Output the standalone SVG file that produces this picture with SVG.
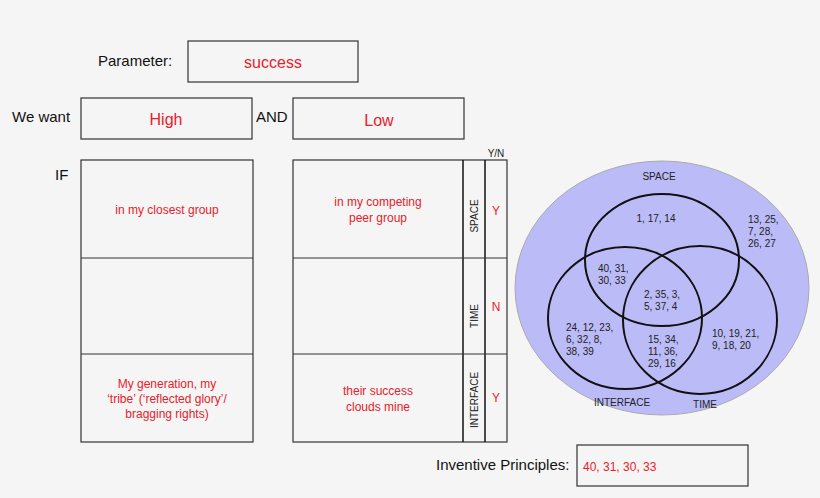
<svg xmlns="http://www.w3.org/2000/svg" width="820" height="498" viewBox="0 0 820 498">
<style>
text{font-family:"Liberation Sans",Arial,sans-serif}
.b{fill:#f5f5f5;stroke:#333;stroke-width:1.2}
.k{font-size:15px;fill:#111}
.r{font-size:16px;fill:#e8202a}
.rs{font-size:12px;fill:#e8202a}
.s{font-size:10px;fill:#222}
.v{font-size:10px;fill:#222}
.c{fill:none;stroke:#111;stroke-width:2}
</style>
<rect width="820" height="498" fill="#f5f5f5"/>
<g id="parameter">
<text class="k" x="98" y="66">Parameter:</text>
<rect class="b" x="188" y="41" width="170" height="41"/>
<text class="r" x="273" y="68" text-anchor="middle">success</text>
</g>
<g id="want">
<text class="k" x="12" y="122">We want</text>
<rect class="b" x="81" y="98" width="171" height="41"/>
<text class="r" x="166" y="125" text-anchor="middle">High</text>
<text class="k" x="256" y="122">AND</text>
<rect class="b" x="293" y="98" width="171" height="41"/>
<text class="r" x="379" y="126" text-anchor="middle">Low</text>
</g>
<g id="left-table">
<text class="k" x="55" y="180">IF</text>
<rect class="b" x="81" y="160" width="172" height="282"/>
<line x1="81" y1="258" x2="253" y2="258" stroke="#333"/>
<line x1="81" y1="354" x2="253" y2="354" stroke="#333"/>
<text class="rs" x="167" y="214" text-anchor="middle">in my closest group</text>
<text class="rs" text-anchor="middle"><tspan x="167" y="388">My generation, my</tspan><tspan x="167" y="403">‘tribe’ (‘reflected glory’/</tspan><tspan x="167" y="418">bragging rights)</tspan></text>
</g>
<g id="right-table">
<rect class="b" x="293" y="160" width="214" height="282"/>
<line x1="463" y1="160" x2="463" y2="442" stroke="#111" stroke-width="1.5"/>
<line x1="485" y1="160" x2="485" y2="442" stroke="#111" stroke-width="1.5"/>
<line x1="293" y1="258" x2="507" y2="258" stroke="#333"/>
<line x1="293" y1="354" x2="507" y2="354" stroke="#333"/>
<text class="s" x="496" y="157" text-anchor="middle">Y/N</text>
<text class="rs" text-anchor="middle"><tspan x="378" y="206">in my competing</tspan><tspan x="378" y="222">peer group</tspan></text>
<text class="rs" text-anchor="middle"><tspan x="378" y="395">their success</tspan><tspan x="378" y="411">clouds mine</tspan></text>
<text class="s" transform="translate(478,216) rotate(-90)" text-anchor="middle">SPACE</text>
<text class="s" transform="translate(478,316) rotate(-90)" text-anchor="middle">TIME</text>
<text class="s" transform="translate(478,400) rotate(-90)" text-anchor="middle">INTERFACE</text>
<text class="rs" x="496" y="215" text-anchor="middle">Y</text>
<text class="rs" x="496" y="311" text-anchor="middle">N</text>
<text class="rs" x="496" y="402" text-anchor="middle">Y</text>
</g>
<g id="venn">
<ellipse cx="662" cy="288" rx="147" ry="127" fill="#bbbbf7" stroke="#aaa"/>
<ellipse class="c" cx="662" cy="260" rx="77" ry="66"/>
<ellipse class="c" cx="625" cy="318" rx="77" ry="71"/>
<ellipse class="c" cx="700" cy="320" rx="77" ry="74"/>
<text class="s" x="659" y="180" text-anchor="middle">SPACE</text>
<text class="s" x="622" y="406" text-anchor="middle">INTERFACE</text>
<text class="s" x="705" y="408" text-anchor="middle">TIME</text>
<text class="v" x="656" y="222" text-anchor="middle">1, 17, 14</text>
<text class="v"><tspan x="748" y="223">13, 25,</tspan><tspan x="748" y="235">7, 28,</tspan><tspan x="748" y="247">26, 27</tspan></text>
<text class="v"><tspan x="598" y="272">40, 31,</tspan><tspan x="598" y="284">30, 33</tspan></text>
<text class="v"><tspan x="644" y="298">2, 35, 3,</tspan><tspan x="644" y="310">5, 37, 4</tspan></text>
<text class="v"><tspan x="566" y="331">24, 12, 23,</tspan><tspan x="566" y="343">6, 32, 8,</tspan><tspan x="566" y="355">38, 39</tspan></text>
<text class="v"><tspan x="648" y="343">15, 34,</tspan><tspan x="648" y="355">11, 36,</tspan><tspan x="648" y="367">29, 16</tspan></text>
<text class="v"><tspan x="712" y="337">10, 19, 21,</tspan><tspan x="712" y="349">9, 18, 20</tspan></text>
</g>
<g id="inventive">
<text class="k" x="436" y="470">Inventive Principles:</text>
<rect class="b" x="577" y="445" width="171" height="41"/>
<text class="rs" x="583" y="471">40, 31, 30, 33</text>
</g>
</svg>
